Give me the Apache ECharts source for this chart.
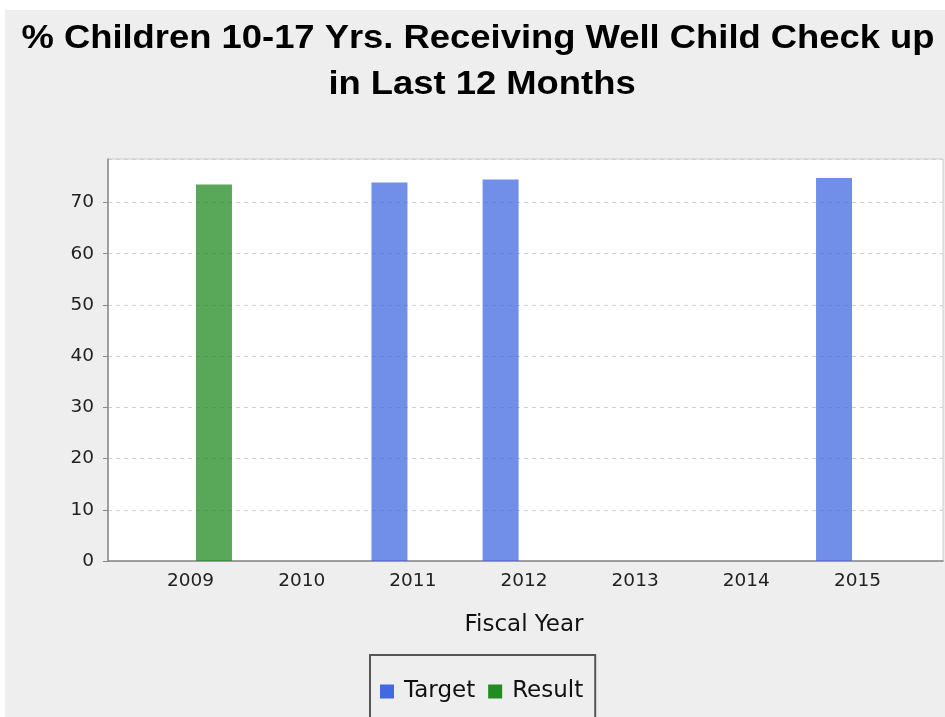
<!DOCTYPE html>
<html>
<head>
<meta charset="utf-8">
<script src="https://cdn.jsdelivr.net/npm/echarts@6/dist/echarts.min.js"></script>
<style>
  html, body { margin: 0; padding: 0; background: #ffffff; }
  #chart { width: 945px; height: 717px; }
</style>
</head>
<body>
<div id="chart"></div>
<script>
// Fiscal years on the category axis
const years = ['2009', '2010', '2011', '2012', '2013', '2014', '2015'];
// Percent values per year (null = no bar for that year)
const targetValues = [null, null, 73.9, 74.5, null, null, 74.8];
const resultValues = [73.5, null, null, null, null, null, null];
// Value axis range and step
const yMin = 0;
const yMax = 78.5;
const yStep = 10;
// Title lines
const titleLines = ['% Children 10-17 Yrs. Receiving Well Child Check up', 'in Last 12 Months'];

const tickFont = { fontFamily: 'DejaVu Sans', fontSize: 18.5, color: '#222222' };
const titleFont = 'bold 34px "Liberation Sans", Arial, sans-serif';

const chart = echarts.init(document.getElementById('chart'), null, { renderer: 'canvas' });

// Title text, slightly widened, one element per line
const titleGraphics = titleLines.map((line, i) => ({
  type: 'text',
  x: 478 + i * 4,
  y: 39 + i * 46,
  scaleX: 1.07,
  z: 10,
  style: { text: line, font: titleFont, fill: '#000000', align: 'center', verticalAlign: 'middle' }
}));

chart.setOption({
  backgroundColor: '#EEEEEE',
  animation: false,
  graphic: [
    // thin white margin along top and left edges
    { type: 'rect', left: 0, top: 0, shape: { width: 945, height: 10 }, style: { fill: '#ffffff' }, z: -1 },
    { type: 'rect', left: 0, top: 0, shape: { width: 5, height: 717 }, style: { fill: '#ffffff' }, z: -1 }
  ].concat(titleGraphics),
  legend: {
    left: 370,
    top: 655,
    padding: [25, 12, 24, 10],
    borderColor: '#555555',
    borderWidth: 2,
    itemWidth: 14,
    itemHeight: 14,
    itemGap: 13,
    icon: 'rect',
    textStyle: { fontFamily: 'DejaVu Sans', fontSize: 23, color: '#111111', padding: [0, 0, 0, 5] },
    data: [
      { name: 'Target', itemStyle: { color: '#4169E1', opacity: 1 } },
      { name: 'Result', itemStyle: { color: '#228B22', opacity: 1 } }
    ]
  },
  grid: [
    // full plot area: white background, value axis and gridlines
    { left: 108, top: 159, right: 2, bottom: 156, show: true, backgroundColor: '#ffffff', borderColor: '#cccccc', borderWidth: 1 },
    // inner band for the categories (leaves margin at both ends)
    { left: 135, top: 159, right: 32, bottom: 156 }
  ],
  xAxis: [
    {
      gridIndex: 0, type: 'value', min: 0, max: 1,
      axisLine: { show: true, lineStyle: { color: '#888888', width: 1.5 } },
      axisTick: { show: false }, axisLabel: { show: false }, splitLine: { show: false }
    },
    {
      gridIndex: 1, type: 'category', data: years,
      axisLine: { show: false }, axisTick: { show: false },
      axisLabel: Object.assign({ margin: 11 }, tickFont),
      name: 'Fiscal Year', nameLocation: 'middle', nameGap: 53,
      nameTextStyle: { fontFamily: 'DejaVu Sans', fontSize: 23, color: '#111111' }
    }
  ],
  yAxis: [
    {
      gridIndex: 0, type: 'value', min: yMin, max: yMax, interval: yStep,
      axisLine: { show: true, lineStyle: { color: '#888888', width: 1.5 } },
      axisTick: { show: true, length: 5, lineStyle: { color: '#888888' } },
      axisLabel: Object.assign({ margin: 14, showMaxLabel: false }, tickFont),
      splitLine: { show: true, lineStyle: { color: '#cfcfcf', type: [4, 4], width: 1 } }
    },
    {
      gridIndex: 1, type: 'value', min: yMin, max: yMax, interval: yStep, show: false,
      splitLine: { show: false }
    }
  ],
  series: [
    {
      name: 'Target', type: 'bar', xAxisIndex: 1, yAxisIndex: 1,
      data: targetValues, barWidth: 36, barGap: '30%',
      itemStyle: { color: 'rgba(65,105,225,0.75)' }
    },
    {
      name: 'Result', type: 'bar', xAxisIndex: 1, yAxisIndex: 1,
      data: resultValues, barWidth: 36, barGap: '30%',
      itemStyle: { color: 'rgba(34,139,34,0.75)' }
    }
  ]
});
</script>
</body>
</html>
